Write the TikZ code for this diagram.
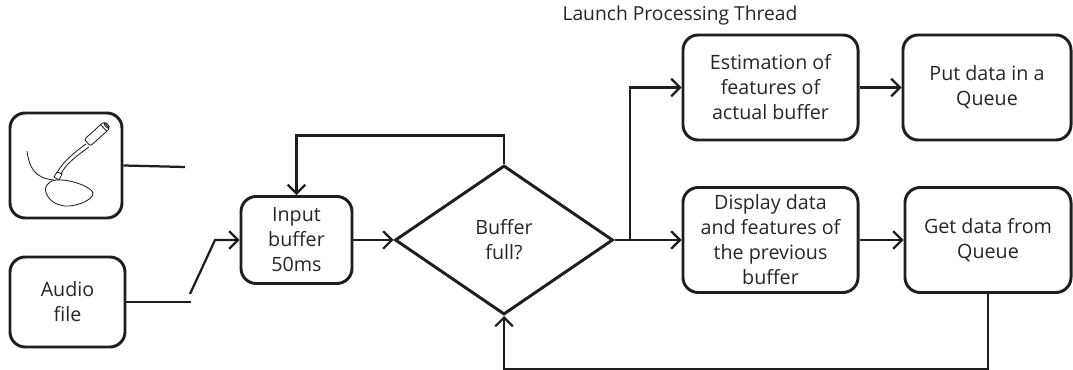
\documentclass[tikz,border=0pt]{standalone}
\usepackage{fontspec}
\setmainfont{Open Sans}
\usepackage{tikz}
\usetikzlibrary{arrows.meta,shapes.geometric}
\definecolor{ink}{HTML}{1E1E1E}
\definecolor{txt}{HTML}{262626}
\tikzset{
  lab/.style={text=txt, font=\fontsize{14pt}{17.8pt}\selectfont, align=center},
  box/.style={lab, draw=ink, line width=2.1pt, rounded corners=0.38cm, inner sep=0pt},
  decision/.style={lab, diamond, draw=ink, line width=2.1pt, inner sep=0pt,
    minimum width=5.45cm, minimum height=3.725cm},
  link/.style={draw=ink, line width=1.6pt},
  flow/.style={link, -{Straight Barb[length=2.2mm,width=4.4mm]}},
  wire/.style={draw=ink, line width=0.6pt}
}

\begin{document}
\begin{tikzpicture}[x=0.025cm,y=0.025cm]
\useasboundingbox (0,0) rectangle (1073,369);

% sources
\node[box, minimum width=2.8cm, minimum height=2.625cm] (mic) at (66,203.5) {};
\node[box, minimum width=2.875cm, minimum height=2.25cm] (audio) at (67.5,67) {Audio\\file};

% microphone
\begin{scope}[shift={(97,235)}, rotate=42]
\draw[wire, rounded corners=1.5pt] (-13,-4.5) rectangle (13,4.5);
\draw[wire] (9,-4.5) -- (9,4.5);
\draw[wire] (13,0) ellipse (1.5 and 3.5);
\end{scope}
\draw[wire] (86,225) .. controls (72,215) and (62,206) .. (57,196);
\draw[wire] (89,222) .. controls (75,212) and (65,204) .. (61,195);
\draw[wire] (54,192) -- (57,197) -- (62,195) -- (59,189) -- cycle;
\draw[wire] (57,189) .. controls (70,190) and (92,182) .. (93,176)
  .. controls (94,168) and (70,160) .. (60,164)
  .. controls (50,166) and (42,178) .. (47,184)
  .. controls (50,188) and (54,189) .. (57,189);
\draw[wire] (27,218) .. controls (28,210) and (30,203) .. (34,198)
  .. controls (38,193) and (44,190) .. (54,189);

% main chain
\node[box, minimum width=2.775cm, minimum height=2.175cm] (input) at (296.5,129) {Input\\buffer\\50ms};
\node[decision] (dec) at (504,129) {Buffer\\full?};
\node[box, minimum width=4.375cm, minimum height=2.625cm] (estim) at (770.5,281.5) {Estimation of\\features of\\actual buffer};
\node[box, minimum width=4.2cm, minimum height=2.625cm] (put) at (987,281.5) {Put data in a\\Queue};
\node[box, minimum width=4.375cm, minimum height=2.625cm] (disp) at (770.5,129) {Display data\\and features of\\the previous\\buffer};
\node[box, minimum width=4.15cm, minimum height=2.625cm] (get) at (988,129) {Get data from\\Queue};
\node[lab, font=\fontsize{13.7pt}{16pt}\selectfont] (title) at (680,354) {Launch Processing Thread};

% switch
\coordinate (micEnd) at (185,202);
\coordinate (swLow) at (191,67);
\coordinate (swOpen) at (190,75);
\coordinate (swPivot) at (215,129);
\coordinate (branch) at (630,129);

\draw[link] (mic.east) -- (micEnd);
\draw[link] (audio.east) -- (swLow);
\draw[flow] (swOpen) -- (swPivot) -- (input.west);

% flow
\draw[flow] (input.east) -- (dec.west);
\draw[flow] (dec.north) -- ++(0,28.5) -| (input.north);
\draw[flow] (dec.east) -- (disp.west);
\draw[flow] (branch) |- (estim.west);
\draw[flow] (estim.east) -- (put.west);
\draw[flow] (disp.east) -- (get.west);
\draw[flow] (get.south) -- ++(0,-75) -| (dec.south);
\end{tikzpicture}
\end{document}
